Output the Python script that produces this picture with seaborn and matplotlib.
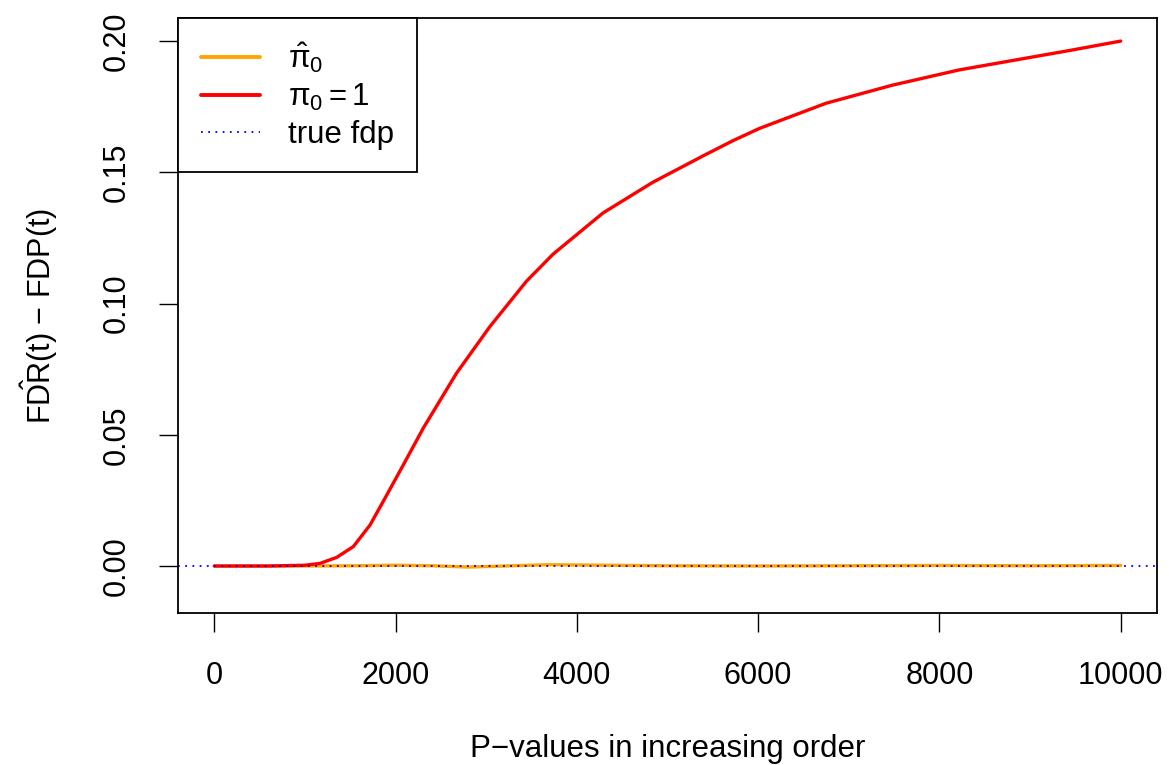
import numpy as np
import pandas as pd
import matplotlib
matplotlib.use("Agg")
import matplotlib.pyplot as plt
import seaborn as sns
from matplotlib.lines import Line2D

sns.set_style("white")
plt.rcParams['font.family'] = ['Liberation Sans', 'DejaVu Sans']
plt.rcParams['mathtext.fontset'] = 'custom'
plt.rcParams['mathtext.rm'] = 'Liberation Sans'
plt.rcParams['mathtext.it'] = 'Liberation Sans:italic'
plt.rcParams['mathtext.sf'] = 'Liberation Sans'
plt.rcParams['text.color'] = 'black'
plt.rcParams['axes.labelcolor'] = 'black'

# Data
rank = [0, 600, 1000, 1167, 1351, 1534, 1718, 1902, 2085, 2305, 2673, 3040,
        3444, 3737, 4288, 4838, 5389, 5719, 6013, 6748, 7481, 8216, 8840,
        9450, 10000]
fdr_pi0_1 = [0.0, 0.0, 0.0003, 0.001, 0.0033, 0.0074, 0.0156, 0.027, 0.0385,
             0.0525, 0.0735, 0.0912, 0.1085, 0.1188, 0.1345, 0.1462, 0.1562,
             0.1620, 0.1667, 0.1763, 0.1832, 0.189, 0.1928, 0.1965, 0.2000]
rank_hat = [0, 1000, 1600, 2000, 2400, 2800, 3200, 3700, 4300, 5000, 6000,
            7000, 8000, 9000, 10000]
fdr_pi0_hat = [0.0, 0.0, 0.0001, 0.0003, 0.0001, -0.0004, 0.0, 0.0005, 0.0003,
               0.0001, 0.0, 0.0001, 0.0002, 0.0001, 0.0002]

df_red = pd.DataFrame({"rank": rank, "diff": fdr_pi0_1})
df_or = pd.DataFrame({"rank": rank_hat, "diff": fdr_pi0_hat})

fig = plt.figure(figsize=(11.69, 7.65), dpi=100)
ax = fig.add_axes([0.1523, 0.1987, 0.9897 - 0.1523, 0.9765 - 0.1987])

sns.lineplot(data=df_or, x="rank", y="diff", ax=ax, color="orange", lw=2.4)
sns.lineplot(data=df_red, x="rank", y="diff", ax=ax, color="red", lw=2.4)
ax.axhline(0, color="blue", lw=1.3, ls=(0, (1, 3)))

ax.set_xlim(-400, 10400)
ax.set_ylim(-0.0179, 0.2088)
ax.set_xticks([0, 2000, 4000, 6000, 8000, 10000])
ax.set_yticks([0.00, 0.05, 0.10, 0.15, 0.20])
ax.set_yticklabels(["0.00", "0.05", "0.10", "0.15", "0.20"], rotation=90, va="center")
ax.tick_params(axis="both", direction="out", length=13.5, width=1, labelsize=22,
               bottom=True, left=True, colors="black")
ax.tick_params(axis="x", pad=21)
ax.tick_params(axis="y", pad=20)
for s in ax.spines.values():
    s.set_color("black")
    s.set_linewidth(1.3)

ax.set_xlabel("P\u2212values in increasing order", fontsize=22.5, labelpad=31)
ax.set_ylabel(r"$\hat{\mathrm{FDR}}\mathrm{(t)}$" + " \u2212 FDP(t)",
              fontsize=22, labelpad=30)

handles = [Line2D([], [], color="orange", lw=2.8),
           Line2D([], [], color="red", lw=2.8),
           Line2D([], [], color="blue", lw=1.3, ls=(0, (1, 3)))]
labels = [r"$\hat{\mathrm{\pi}}_0$", r"$\mathrm{\pi}_0 = 1$", "true fdp"]
leg = ax.legend(handles, labels, loc="upper left", bbox_to_anchor=(0, 1),
                borderaxespad=0, fancybox=False, edgecolor="black", framealpha=1,
                fontsize=22.5, handlelength=1.9, handletextpad=0.9,
                borderpad=0.72, labelspacing=0.22)
leg.get_frame().set_linewidth(1.3)

fig.savefig("out.png", dpi=100)
